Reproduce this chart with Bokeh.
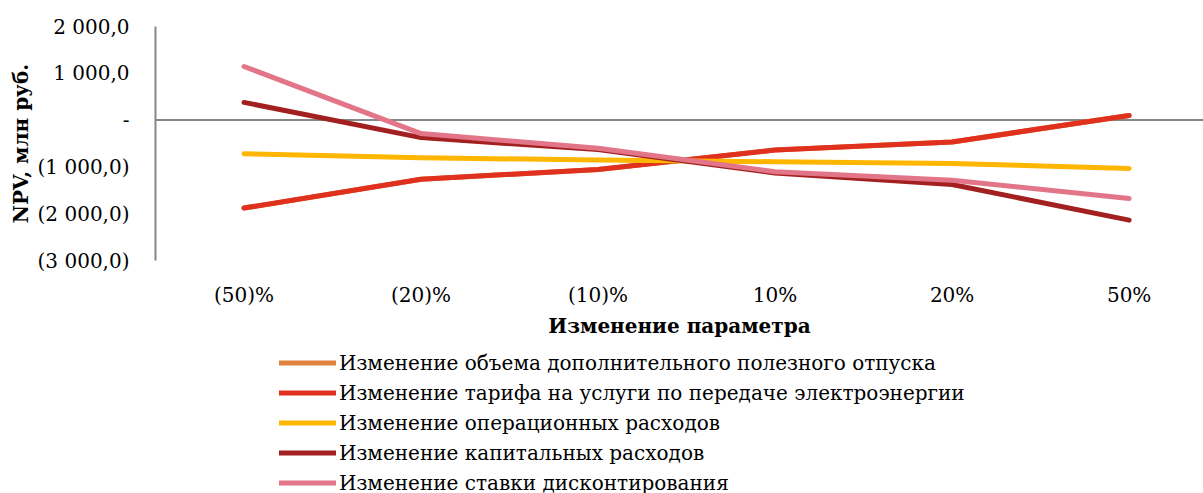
from bokeh.plotting import figure
from bokeh.models import FixedTicker, Span, Legend, LegendItem, Range1d
from bokeh.layouts import column
from bokeh.embed import file_html
from bokeh.resources import INLINE

categories = ["(50)%", "(20)%", "(10)%", "10%", "20%", "50%"]
volume = [-1880, -1265, -1055, -640, -467, 99]
tariff = [-1880, -1265, -1055, -640, -467, 99]
opex = [-718, -804, -853, -890, -925, -1032]
capex = [378, -374, -630, -1130, -1376, -2137]
discount = [1146, -288, -600, -1105, -1284, -1677]

series_names = [
    "Изменение объема дополнительного полезного отпуска",
    "Изменение тарифа на услуги по передаче электроэнергии",
    "Изменение операционных расходов",
    "Изменение капитальных расходов",
    "Изменение ставки дисконтирования",
]
series_values = [volume, tariff, opex, capex, discount]
series_colors = ["#E0823D", "#E0301E", "#FFB600", "#A32020", "#E27588"]

y_ticks = [-3000, -2000, -1000, 0, 1000, 2000]
y_tick_labels = ["(3 000,0)", "(2 000,0)", "(1 000,0)", "-", "1 000,0", "2 000,0"]

FONT = "DejaVu Serif"
x = list(range(len(categories)))

# main chart
p = figure(width=1203, height=347, output_backend="svg", toolbar_location=None,
           x_range=Range1d(-0.5, 5.42), y_range=Range1d(-3000, 2000),
           min_border_left=155, min_border_top=26, min_border_bottom=87,
           min_border_right=0)
p.outline_line_color = None
p.xgrid.visible = False
p.ygrid.visible = False

p.add_layout(Span(location=0, dimension="width", line_color="#868686",
                  line_width=2, level="underlay"))

for name, vals, col in zip(series_names, series_values, series_colors):
    p.line(x, vals, line_color=col, line_width=5, line_cap="round", line_join="round")

xa = p.xaxis[0]
xa.ticker = FixedTicker(ticks=x)
xa.major_label_overrides = {i: c for i, c in zip(x, categories)}
xa.axis_line_color = None
xa.major_tick_line_color = None
xa.minor_tick_line_color = None
xa.major_label_standoff = 16
xa.major_label_text_font = FONT
xa.major_label_text_font_size = "20px"
xa.major_label_text_color = "black"
xa.axis_label = "Изменение параметра"
xa.axis_label_text_font = FONT
xa.axis_label_text_font_style = "bold"
xa.axis_label_text_font_size = "20px"
xa.axis_label_standoff = 4
xa.axis_label_text_color = "black"

ya = p.yaxis[0]
ya.ticker = FixedTicker(ticks=y_ticks)
ya.major_label_overrides = {t: l for t, l in zip(y_ticks, y_tick_labels)}
ya.axis_line_color = "#868686"
ya.axis_line_width = 2
ya.major_tick_line_color = None
ya.minor_tick_line_color = None
ya.major_label_standoff = 20
ya.major_label_text_font = FONT
ya.major_label_text_font_size = "20px"
ya.major_label_text_color = "black"
ya.axis_label = "NPV, млн руб."
ya.axis_label_text_font = FONT
ya.axis_label_text_font_style = "bold"
ya.axis_label_text_font_size = "20px"
ya.axis_label_standoff = 2
ya.axis_label_text_color = "black"

# legend strip below the chart (its lines lie outside this strip's visible range)
lg = figure(width=1203, height=146, output_backend="svg", toolbar_location=None,
            x_range=Range1d(-0.5, 5.42), y_range=Range1d(5000, 6000),
            x_axis_location=None, y_axis_location=None,
            min_border_left=155, min_border_right=0, min_border_top=0, min_border_bottom=0)
lg.outline_line_color = None
lg.xgrid.visible = False
lg.ygrid.visible = False

items = []
for name, vals, col in zip(series_names, series_values, series_colors):
    r = lg.line(x, vals, line_color=col, line_width=5, line_cap="round")
    items.append(LegendItem(label=name, renderers=[r]))

legend = Legend(items=items, location=(124, -4), label_text_font=FONT,
                label_text_font_size="20px", label_text_color="black",
                glyph_width=57, glyph_height=29,
                label_height=29, spacing=1, padding=0, margin=0,
                border_line_color=None, background_fill_alpha=0, label_standoff=3)
lg.add_layout(legend)

layout = column(p, lg, spacing=0)
open("out.html", "w").write(file_html(layout, INLINE))
